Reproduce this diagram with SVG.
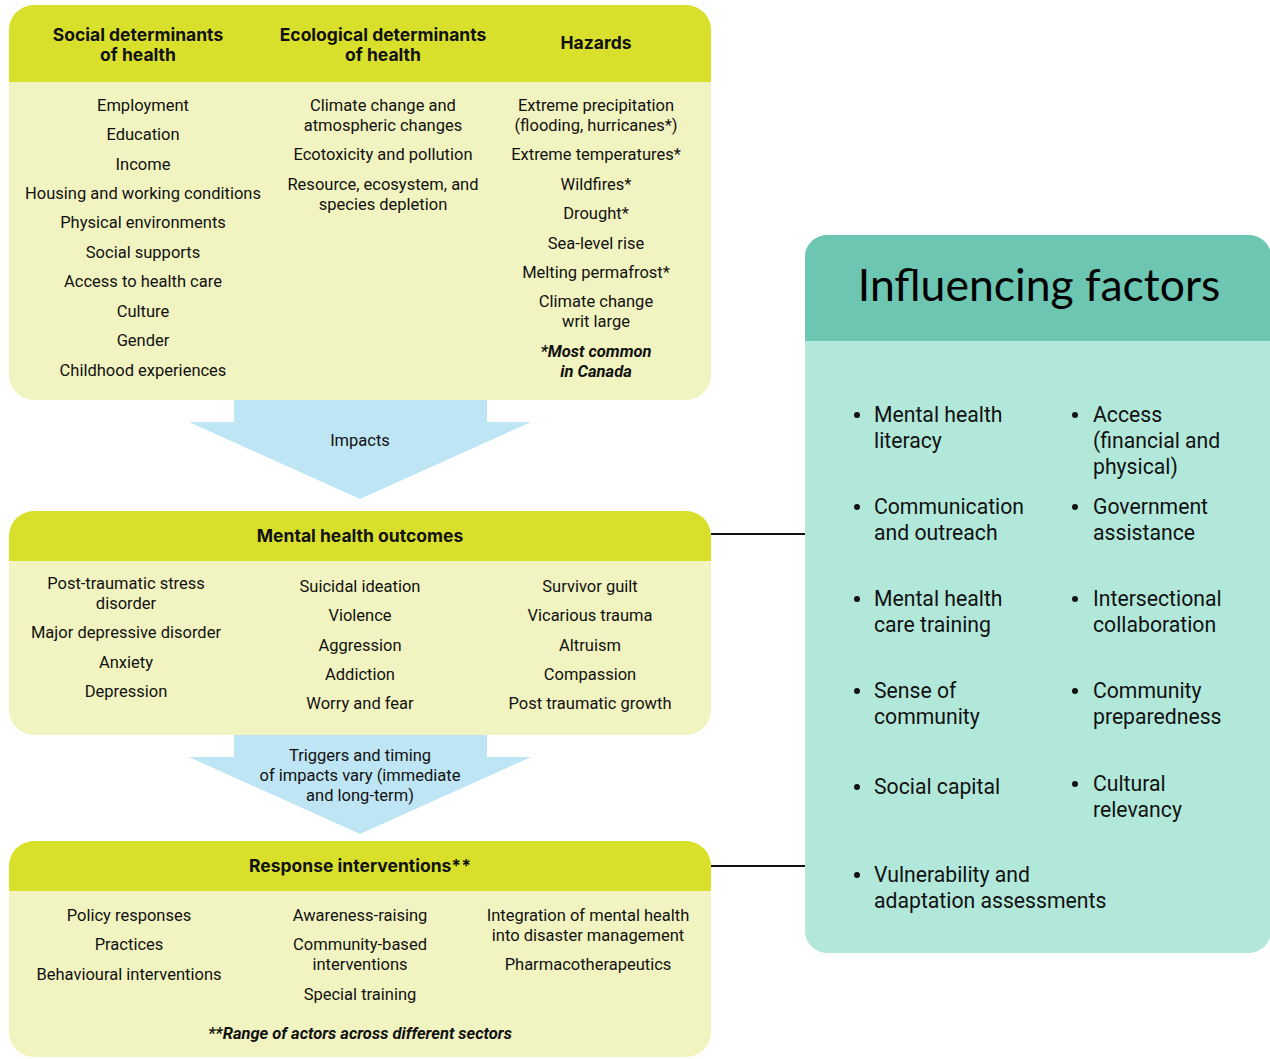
<svg xmlns="http://www.w3.org/2000/svg" width="1270" height="1059" viewBox="0 0 1270 1059">
<style>
.hdr{fill:#d9e02c}
.body{fill:#f1f4c0}
.arr{fill:#bde5f3}
.h{font-family:Inter,Lato,"Liberation Sans",sans-serif;font-weight:700;font-size:17.5px;fill:#111;text-anchor:middle}
.t{font-family:Roboto,"Liberation Sans",sans-serif;font-size:16.5px;fill:#111;text-anchor:middle}
.it{font-family:Roboto,"Liberation Sans",sans-serif;font-size:16.5px;font-style:italic;font-weight:700;fill:#111;text-anchor:middle}
.f{font-family:Roboto,"Liberation Sans",sans-serif;font-size:21.2px;fill:#111}
.title{font-family:Lato,"Liberation Sans",sans-serif;font-size:44.5px;fill:#000;text-anchor:middle}
.conn{stroke:#111;stroke-width:2;fill:none}
</style>
<defs>
<clipPath id="c1"><rect x="9" y="5" width="702" height="395" rx="25"/></clipPath>
<clipPath id="c2"><rect x="9" y="511" width="702" height="224" rx="25"/></clipPath>
<clipPath id="c3"><rect x="9" y="841" width="702" height="216" rx="25"/></clipPath>
<clipPath id="c4"><rect x="805" y="235" width="466" height="718" rx="22"/></clipPath>
</defs>
<rect width="1270" height="1059" fill="#fff"/>

<g id="connectors">
<line class="conn" x1="711" y1="534" x2="806" y2="534"/>
<line class="conn" x1="711" y1="866" x2="806" y2="866"/>
</g>

<g id="arrow-impacts">
<polygon class="arr" points="234,400 487,400 487,422 531,422 360,499 189,422 234,422"/>
<text class="t" x="360" y="446">Impacts</text>
</g>
<g id="arrow-triggers">
<polygon class="arr" points="234,735 487,735 487,757 531,757 360,834 189,757 234,757"/>
<text class="t" x="360" y="761">Triggers and timing</text>
<text class="t" x="360" y="781">of impacts vary (immediate</text>
<text class="t" x="360" y="801">and long-term)</text>
</g>

<g id="determinants">
<g clip-path="url(#c1)">
<rect class="body" x="9" y="5" width="702" height="395"/>
<rect class="hdr" x="9" y="5" width="702" height="77"/>
</g>
<text class="h" x="138" y="41">Social determinants</text>
<text class="h" x="138" y="61">of health</text>
<text class="h" x="383" y="41">Ecological determinants</text>
<text class="h" x="383" y="61">of health</text>
<text class="h" x="596" y="49">Hazards</text>
<text class="t" x="143" y="111">Employment</text>
<text class="t" x="143" y="140">Education</text>
<text class="t" x="143" y="170">Income</text>
<text class="t" x="143" y="199">Housing and working conditions</text>
<text class="t" x="143" y="228">Physical environments</text>
<text class="t" x="143" y="258">Social supports</text>
<text class="t" x="143" y="287">Access to health care</text>
<text class="t" x="143" y="317">Culture</text>
<text class="t" x="143" y="346">Gender</text>
<text class="t" x="143" y="376">Childhood experiences</text>
<text class="t" x="383" y="111">Climate change and</text>
<text class="t" x="383" y="131">atmospheric changes</text>
<text class="t" x="383" y="160">Ecotoxicity and pollution</text>
<text class="t" x="383" y="190">Resource, ecosystem, and</text>
<text class="t" x="383" y="210">species depletion</text>
<text class="t" x="596" y="111">Extreme precipitation</text>
<text class="t" x="596" y="131">(flooding, hurricanes*)</text>
<text class="t" x="596" y="160">Extreme temperatures*</text>
<text class="t" x="596" y="190">Wildfires*</text>
<text class="t" x="596" y="219">Drought*</text>
<text class="t" x="596" y="249">Sea-level rise</text>
<text class="t" x="596" y="278">Melting permafrost*</text>
<text class="t" x="596" y="307">Climate change</text>
<text class="t" x="596" y="327">writ large</text>
<text class="it" x="596" y="357">*Most common</text>
<text class="it" x="596" y="377">in Canada</text>
</g>

<g id="outcomes">
<g clip-path="url(#c2)">
<rect class="body" x="9" y="511" width="702" height="224"/>
<rect class="hdr" x="9" y="511" width="702" height="50"/>
</g>
<text class="h" x="360" y="542">Mental health outcomes</text>
<text class="t" x="126" y="589">Post-traumatic stress</text>
<text class="t" x="126" y="609">disorder</text>
<text class="t" x="126" y="638">Major depressive disorder</text>
<text class="t" x="126" y="668">Anxiety</text>
<text class="t" x="126" y="697">Depression</text>
<text class="t" x="360" y="592">Suicidal ideation</text>
<text class="t" x="360" y="621">Violence</text>
<text class="t" x="360" y="651">Aggression</text>
<text class="t" x="360" y="680">Addiction</text>
<text class="t" x="360" y="709">Worry and fear</text>
<text class="t" x="590" y="592">Survivor guilt</text>
<text class="t" x="590" y="621">Vicarious trauma</text>
<text class="t" x="590" y="651">Altruism</text>
<text class="t" x="590" y="680">Compassion</text>
<text class="t" x="590" y="709">Post traumatic growth</text>
</g>

<g id="interventions">
<g clip-path="url(#c3)">
<rect class="body" x="9" y="841" width="702" height="216"/>
<rect class="hdr" x="9" y="841" width="702" height="50"/>
</g>
<text class="h" x="360" y="872">Response interventions**</text>
<text class="t" x="129" y="921">Policy responses</text>
<text class="t" x="129" y="950">Practices</text>
<text class="t" x="129" y="980">Behavioural interventions</text>
<text class="t" x="360" y="921">Awareness-raising</text>
<text class="t" x="360" y="950">Community-based</text>
<text class="t" x="360" y="970">interventions</text>
<text class="t" x="360" y="1000">Special training</text>
<text class="t" x="588" y="921">Integration of mental health</text>
<text class="t" x="588" y="941">into disaster management</text>
<text class="t" x="588" y="970">Pharmacotherapeutics</text>
<text class="it" x="360" y="1039">**Range of actors across different sectors</text>
</g>

<g id="influencing-factors">
<g clip-path="url(#c4)">
<rect x="805" y="235" width="466" height="718" fill="#b2e8da"/>
<rect x="805" y="235" width="466" height="106" fill="#6dc6b2"/>
</g>
<text class="title" x="1039" y="301">Influencing factors</text>
<g fill="#111">
<circle cx="857" cy="415" r="3"/><circle cx="1075" cy="415" r="3"/>
<circle cx="857" cy="507" r="3"/><circle cx="1075" cy="507" r="3"/>
<circle cx="857" cy="599" r="3"/><circle cx="1075" cy="599" r="3"/>
<circle cx="857" cy="691" r="3"/><circle cx="1075" cy="691" r="3"/>
<circle cx="857" cy="787" r="3"/><circle cx="1075" cy="784" r="3"/>
<circle cx="857" cy="875" r="3"/>
</g>
<text class="f" x="874" y="422">Mental health</text>
<text class="f" x="874" y="448">literacy</text>
<text class="f" x="1093" y="422">Access</text>
<text class="f" x="1093" y="448">(financial and</text>
<text class="f" x="1093" y="474">physical)</text>
<text class="f" x="874" y="514">Communication</text>
<text class="f" x="874" y="540">and outreach</text>
<text class="f" x="1093" y="514">Government</text>
<text class="f" x="1093" y="540">assistance</text>
<text class="f" x="874" y="606">Mental health</text>
<text class="f" x="874" y="632">care training</text>
<text class="f" x="1093" y="606">Intersectional</text>
<text class="f" x="1093" y="632">collaboration</text>
<text class="f" x="874" y="698">Sense of</text>
<text class="f" x="874" y="724">community</text>
<text class="f" x="1093" y="698">Community</text>
<text class="f" x="1093" y="724">preparedness</text>
<text class="f" x="874" y="794">Social capital</text>
<text class="f" x="1093" y="791">Cultural</text>
<text class="f" x="1093" y="817">relevancy</text>
<text class="f" x="874" y="882">Vulnerability and</text>
<text class="f" x="874" y="908">adaptation assessments</text>
</g>
</svg>
